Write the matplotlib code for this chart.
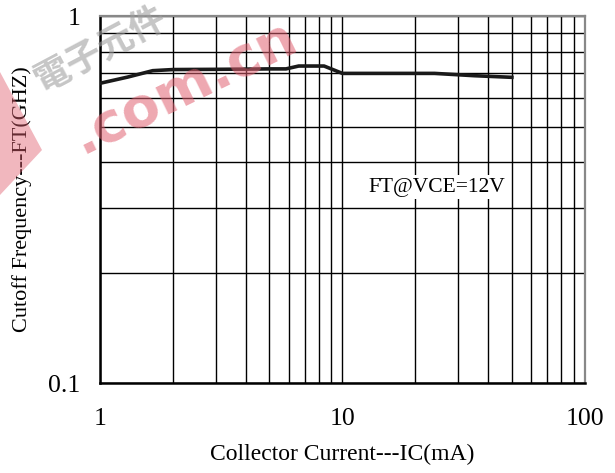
import matplotlib.pyplot as plt
from matplotlib.patches import Polygon
from matplotlib.ticker import FixedLocator, NullFormatter

# Data
ic_ma = [1, 1.3, 1.65, 2, 3, 4, 5, 5.85, 6.6, 8.4, 10, 15, 24, 35, 50]
ft_ghz = [0.656, 0.682, 0.710, 0.715, 0.716, 0.717, 0.718, 0.718, 0.731, 0.731,
          0.698, 0.698, 0.698, 0.688, 0.681]
x_ticks = [1, 10, 100]
x_labels = ["1", "10", "100"]
y_ticks = [0.1, 1]
y_labels = ["0.1", "1"]

plt.rcParams['font.family'] = ['Liberation Serif', 'DejaVu Serif']

fig = plt.figure(figsize=(6.15, 4.73), dpi=100)
ax = fig.add_axes([0.1626, 0.190, 0.7884, 0.776])

ax.set_xscale('log')
ax.set_yscale('log')
ax.set_xlim(1, 100)
ax.set_ylim(0.1, 1)

# grid
ax.xaxis.set_minor_locator(FixedLocator([2, 3, 4, 5, 6, 7, 8, 9, 20, 30, 40, 50, 60, 70, 80, 90]))
ax.yaxis.set_minor_locator(FixedLocator([0.2, 0.3, 0.4, 0.5, 0.6, 0.7, 0.8, 0.9]))
ax.xaxis.set_minor_formatter(NullFormatter())
ax.yaxis.set_minor_formatter(NullFormatter())
ax.grid(True, which='both', color='black', linewidth=1.0)
ax.set_axisbelow(True)

ax.plot(ic_ma, ft_ghz, color='#1a1a1a', linewidth=2.6, zorder=3)

ax.set_xticks(x_ticks)
ax.set_xticklabels(x_labels)
ax.set_yticks(y_ticks)
ax.set_yticklabels(y_labels)
ax.tick_params(which='both', length=0, labelsize=18.5)
ax.tick_params(axis='x', pad=18)
ax.tick_params(axis='y', pad=14)

for s in ['top', 'right']:
    ax.spines[s].set_color('#888888')
    ax.spines[s].set_linewidth(1.6)
for s in ['left', 'bottom']:
    ax.spines[s].set_color('black')
    ax.spines[s].set_linewidth(1.8)

ax.set_xlabel("Collector Current---IC(mA)", fontsize=17, labelpad=10)
ax.set_ylabel("Cutoff Frequency---FT(GHZ)", fontsize=16, labelpad=12)

ax.text(24.4, 0.342, "FT@VCE=12V", fontsize=15.5, ha='center', va='center',
        bbox=dict(facecolor='white', edgecolor='none', pad=2), zorder=4)

# watermark
fig.text(0.30, 0.815, ".com.cn", color='#e06070', alpha=0.55, fontsize=40,
         fontweight='bold', family='DejaVu Sans', rotation=26,
         ha='center', va='center', zorder=10)
fig.text(0.165, 0.895, "電子元件", color='#a0a0a0', alpha=0.6, fontsize=26,
         fontweight='bold', family=['Noto Sans CJK TC', 'DejaVu Sans'], rotation=28,
         ha='center', va='center', zorder=10)
wedge = Polygon([(0, 1 - 72 / 473), (42 / 615, 1 - 150 / 473), (0, 1 - 195 / 473)],
                closed=True, transform=fig.transFigure, facecolor='#e06070',
                alpha=0.45, edgecolor='none', zorder=10)
fig.patches.append(wedge)

plt.savefig("out.png", dpi=100)
